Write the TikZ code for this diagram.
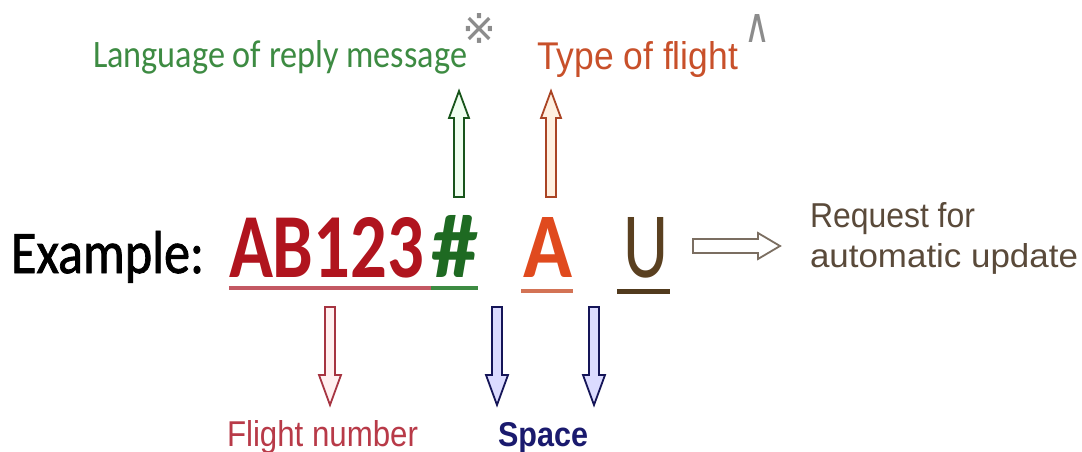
\documentclass[tikz,border=0pt]{standalone}
\usepackage{fontspec}
\setmainfont{Carlito}
\newfontfamily\exf[FakeBold=1.4]{Carlito}
\newfontfamily\arialf{Liberation Sans}
\newfontfamily\dejavu{DejaVu Sans}
\usetikzlibrary{calc}
\definecolor{cred}{HTML}{B0141E}
\definecolor{cgreen}{HTML}{1E6A22}
\definecolor{corange}{HTML}{E04A1E}
\definecolor{cbrown}{HTML}{5A4020}
\definecolor{lgreen}{HTML}{3D8B42}
\definecolor{lorange}{HTML}{C8502A}
\definecolor{lbrown}{HTML}{5A4A3A}
\definecolor{lred}{HTML}{B83A48}
\definecolor{lblue}{HTML}{1A1A6E}
\definecolor{lgray}{HTML}{8C8C8C}
\newcommand{\fitbox}[3]{\resizebox{#1pt}{#2pt}{#3}}
\tikzset{
  txt/.style={inner sep=0pt, outer sep=0pt, anchor=base west},
  hollow/.style n args={6}{draw=#1, fill=#2, line width=1.8pt, line join=miter,
    to path={
      let \p1=(\tikztostart), \p2=(\tikztotarget),
          \n1={atan2(\y2-\y1,\x2-\x1)}, \n2={veclen(\x2-\x1,\y2-\y1)} in
      {[shift={(\p1)}, rotate=\n1]
        (0pt,-#3pt) -- (\n2-#5pt,-#3pt) -- (\n2-#5pt,-#4pt) -- (\n2,0pt)
        -- (\n2-#5pt,#4pt) -- (\n2-#5pt,#3pt) -- (0pt,#3pt) -- cycle}
    }},
  uline/.style={line width=#1}
}
\begin{document}
\begin{tikzpicture}[x=1pt,y=-1pt]
\useasboundingbox[fill=white] (0,0) rectangle (1082,452);

% main example text
\node[txt] (ex) at (11,273) {\fitbox{193}{42}{\exf Example:}};
\node[txt, text=cred] (ab) at (229,277) {\fitbox{195}{60}{\bfseries AB123}};
\node[txt, text=cgreen] (hash) at (431,277) {\fitbox{47}{62}{\bfseries\#}};
\node[txt, text=corange] (a) at (523,277) {\fitbox{49}{60}{\bfseries A}};
\node[txt, text=cbrown] (u) at (623,277) {\fitbox{45}{60}{U}};

% underlines
\draw[uline=4pt, draw=lred!85!white] (229,288) -- (431,288);
\draw[uline=4pt, draw=lgreen] (431,288) -- (478,288);
\draw[uline=4pt, draw=lorange!80!white] (521,291) -- (573,291);
\draw[uline=5pt, draw=cbrown!90!black] (617,291) -- (670,291);

% labels
\node[txt, text=lgreen] (lang) at (93,68) {\fitbox{374}{27}{Language of reply message}};
\node[text=lgray, inner sep=0pt] (ref) at (479,29) {\fitbox{34}{30}{\dejavu ※}};
\node[txt, text=lorange] (type) at (537,70) {\fitbox{201}{28}{\arialf Type of flight}};
\node[text=lgray, inner sep=0pt] (caret) at (757,29) {\fitbox{26}{28}{\dejavu ∧}};
\node[txt, text=lbrown] (req1) at (810,227) {\fitbox{165}{25}{\arialf Request for}};
\node[txt, text=lbrown] (req2) at (810,267) {\fitbox{268}{24}{\arialf automatic update}};
\node[txt, text=lred] (fn) at (227,446) {\fitbox{191}{26}{\arialf Flight number}};
\node[txt, text=lblue] (sp) at (498,446) {\fitbox{90}{24}{\arialf\bfseries Space}};

% arrow end points
\coordinate (g0) at (459,197); \coordinate (g1) at (459,91);
\coordinate (o0) at (551,197); \coordinate (o1) at (551,91);
\coordinate (r0) at (330,307); \coordinate (r1) at (330,405);
\coordinate (b0) at (497,307); \coordinate (b1) at (497,405);
\coordinate (c0) at (594,307); \coordinate (c1) at (594,405);
\coordinate (h0) at (693,246); \coordinate (h1) at (780,246);

% hollow arrows
\draw[hollow={cgreen!80!black}{green!6!white}{5}{10}{27}{}] (g0) to (g1);
\draw[hollow={lorange!85!black}{orange!12!white}{5}{10}{27}{}] (o0) to (o1);
\draw[hollow={lred!90!black}{red!6!white}{5}{11}{30}{}] (r0) to (r1);
\draw[hollow={lblue!80!black}{blue!14!white}{5}{11}{30}{}] (b0) to (b1);
\draw[hollow={lblue!80!black}{blue!14!white}{5}{11}{30}{}] (c0) to (c1);
\draw[hollow={lbrown!80!white}{white}{7}{13}{22}{}] (h0) to (h1);
\end{tikzpicture}
\end{document}
